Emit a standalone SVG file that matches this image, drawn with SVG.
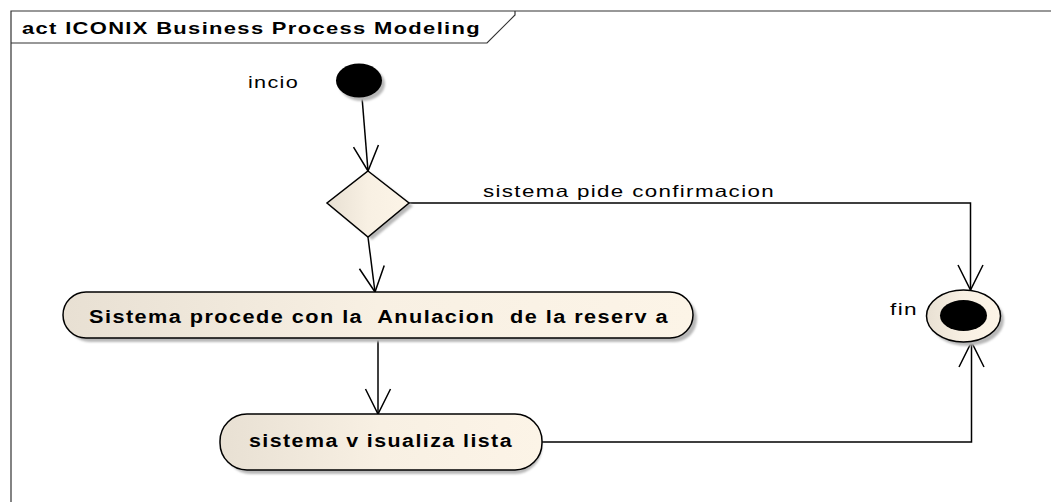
<svg xmlns="http://www.w3.org/2000/svg" width="1051" height="502" viewBox="0 0 1051 502">
<style>
.frame{fill:none;stroke:#333;stroke-width:1.2}
.node{stroke:#000;stroke-width:1.5;fill:url(#g)}
.shadow{fill:#b8b8b8;filter:url(#blur)}
.edge{fill:none;stroke:#000;stroke-width:1.5;marker-end:url(#arr)}
.lab{font-family:"Liberation Sans",Arial,sans-serif;font-size:16.5px;letter-spacing:1px;fill:#000}
.act{font-family:"Liberation Sans",Arial,sans-serif;font-size:18px;letter-spacing:1.2px;font-weight:bold;fill:#000;white-space:pre}
.title{font-family:"Liberation Sans",Arial,sans-serif;font-size:16.5px;letter-spacing:1px;font-weight:bold;fill:#000}
</style>
<defs>
<linearGradient id="g" x1="0" y1="0" x2="1" y2="0">
<stop offset="0" stop-color="#e8e0d3"/>
<stop offset="0.5" stop-color="#f8f0e3"/>
<stop offset="1" stop-color="#fcf4e7"/>
</linearGradient>
<filter id="blur" x="-10%" y="-10%" width="130%" height="130%"><feGaussianBlur stdDeviation="1.2"/></filter>
<marker id="arr" markerUnits="userSpaceOnUse" viewBox="-27 -14 29 28" refX="0" refY="0" markerWidth="29" markerHeight="28" orient="auto" overflow="visible">
<path d="M-25,-12.5 L0,0 L-25,12.5" fill="none" stroke="#000" stroke-width="1.5"/>
</marker>
</defs>
<rect width="1051" height="502" fill="#fff"/>
<g id="frame">
<polyline class="frame" points="11,502 11,11 1051,11"/>
<polyline class="frame" points="11,43 487,43 515,15 515,11"/>
<text class="title" x="22" y="34" textLength="459" lengthAdjust="spacingAndGlyphs">act ICONIX Business Process Modeling</text>
</g>
<g id="connectors">
<line class="edge" x1="362" y1="97" x2="368" y2="171"/>
<line class="edge" x1="368" y1="237" x2="375" y2="292"/>
<line class="edge" x1="378" y1="338" x2="378" y2="414"/>
<polyline class="edge" points="409,203 970.5,203 970.5,290"/>
<polyline class="edge" points="542,442 971.5,442 971.5,342"/>
<text class="lab" x="483" y="196.5" textLength="292" lengthAdjust="spacingAndGlyphs">sistema pide confirmacion</text>
</g>
<g id="inicio">
<ellipse class="shadow" cx="362" cy="84" rx="23" ry="17"/>
<ellipse cx="359" cy="80.5" rx="23" ry="17" fill="#000"/>
<text class="lab" x="248" y="88.3" textLength="51" lengthAdjust="spacingAndGlyphs">incio</text>
</g>
<g id="decision">
<polygon class="shadow" points="372,174 413,206 372,240 331,206"/>
<polygon class="node" points="368,171 409,203 368,237 327,203"/>
</g>
<g id="accion1">
<rect class="shadow" x="67" y="296" width="630" height="46" rx="23" ry="23"/>
<rect class="node" x="63" y="292" width="630" height="46" rx="23" ry="23"/>
<text class="act" x="89" y="323" textLength="580" lengthAdjust="spacingAndGlyphs" xml:space="preserve">Sistema procede con la  Anulacion  de la reserv a</text>
</g>
<g id="accion2">
<rect class="shadow" x="224" y="418" width="318" height="56" rx="27" ry="27"/>
<rect class="node" x="220" y="414" width="322" height="56" rx="27" ry="27"/>
<text class="act" x="249" y="447" textLength="264" lengthAdjust="spacingAndGlyphs">sistema v isualiza lista</text>
</g>
<g id="fin">
<ellipse class="shadow" cx="967" cy="320" rx="37" ry="26"/>
<ellipse class="node" cx="963.5" cy="316" rx="37" ry="26"/>
<ellipse cx="963.5" cy="315.5" rx="23.5" ry="15.5" fill="#000"/>
<text class="lab" x="890" y="315" textLength="28" lengthAdjust="spacingAndGlyphs">fin</text>
</g>
</svg>
